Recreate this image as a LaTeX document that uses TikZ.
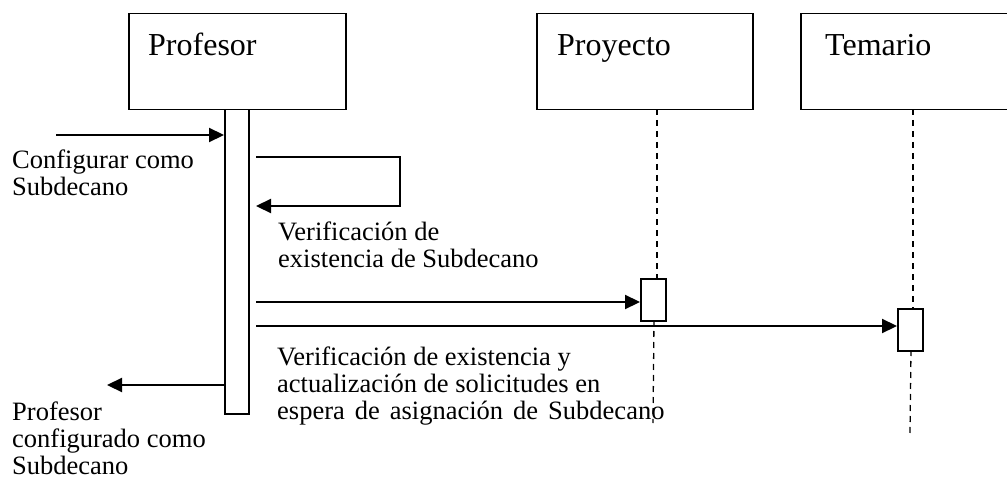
\documentclass[tikz,border=0pt]{standalone}
\usepackage{fontspec}
\setmainfont{Liberation Serif}
\usetikzlibrary{arrows.meta}
\tikzset{
  objbox/.style={draw, line width=1.5pt, rectangle, inner sep=0pt, anchor=north west, fill=white},
  actbar/.style={draw, line width=1.5pt, rectangle, inner sep=0pt, anchor=north west, fill=white},
  lifeline/.style={line width=1.3pt, dash pattern=on 6pt off 5pt},
  msg/.style={line width=2.2pt, -{Triangle[length=15pt,width=14pt]}},
  title/.style={anchor=base west, inner sep=0pt, font=\fontsize{32}{36}\selectfont},
  lbl/.style={anchor=base west, inner sep=0pt, font=\fontsize{26.5}{27}\selectfont},
}
\begin{document}
\begin{tikzpicture}[x=1pt,y=-1pt]
\useasboundingbox (0,0) rectangle (1007,484);
\clip (0,0) rectangle (1007,484);
% lifelines (drawn first)
\coordinate (pl1) at (657,109);
\coordinate (pl2) at (657,278);
\coordinate (pl3) at (654,320);
\coordinate (pl4) at (653,423);
\coordinate (tl1) at (913,109);
\coordinate (tl2) at (913,308);
\coordinate (tl3) at (911,350);
\coordinate (tl4) at (910,433);
\draw[lifeline] (pl1) -- (pl2);
\draw[lifeline] (pl3) -- (pl4);
\draw[lifeline] (tl1) -- (tl2);
\draw[lifeline] (tl3) -- (tl4);
% object boxes
\node[objbox, minimum width=217pt, minimum height=96pt] (prof) at (128,13) {};
\node[objbox, minimum width=216pt, minimum height=96pt] (proy) at (536,13) {};
\node[objbox, minimum width=230pt, minimum height=96pt] (tema) at (800,13) {};
\node[title] (tprof) at (148,56) {Profesor};
\node[title] (tproy) at (557,56) {Proyecto};
\node[title] (ttema) at (825,56) {Temario};
% activation bars
\node[actbar, minimum width=24pt, minimum height=304pt] (act1) at (224,109) {};
\node[actbar, minimum width=25pt, minimum height=42pt] (actp) at (640,278) {};
\node[actbar, minimum width=25pt, minimum height=42pt] (actt) at (897,308) {};
% messages
\coordinate (in1) at (56,135);
\draw[msg] (in1) -- (in1 -| act1.west);
\coordinate (s1) at (256,157);
\coordinate (s2) at (400,157);
\coordinate (s3) at (400,206);
\coordinate (s4) at (256,206);
\draw[msg] (s1) -- (s2) -- (s3) -- (s4);
\coordinate (m1) at (256,302);
\draw[msg] (m1) -- (m1 -| actp.west);
\coordinate (m2) at (256,326);
\draw[msg] (m2) -- (m2 -| actt.west);
\coordinate (r1) at (224,385);
\coordinate (r2) at (107,385);
\draw[msg] (r1) -- (r2);
% labels
\node[lbl] (l1a) at (12,168) {Configurar como};
\node[lbl] (l1b) at (12,195) {Subdecano};
\node[lbl] (l2a) at (278,240) {Verificación de};
\node[lbl] (l2b) at (278,267) {existencia de Subdecano};
\node[lbl] (l3a) at (277,365) {Verificación de existencia y};
\node[lbl] (l3b) at (277,392) {actualización de solicitudes en};
\node[lbl] (l3c) at (277,419) {\spaceskip=10pt espera de asignación de Subdecano};
\node[lbl] (l4a) at (12,420) {Profesor};
\node[lbl] (l4b) at (12,447) {configurado como};
\node[lbl] (l4c) at (12,474) {Subdecano};
\end{tikzpicture}
\end{document}
